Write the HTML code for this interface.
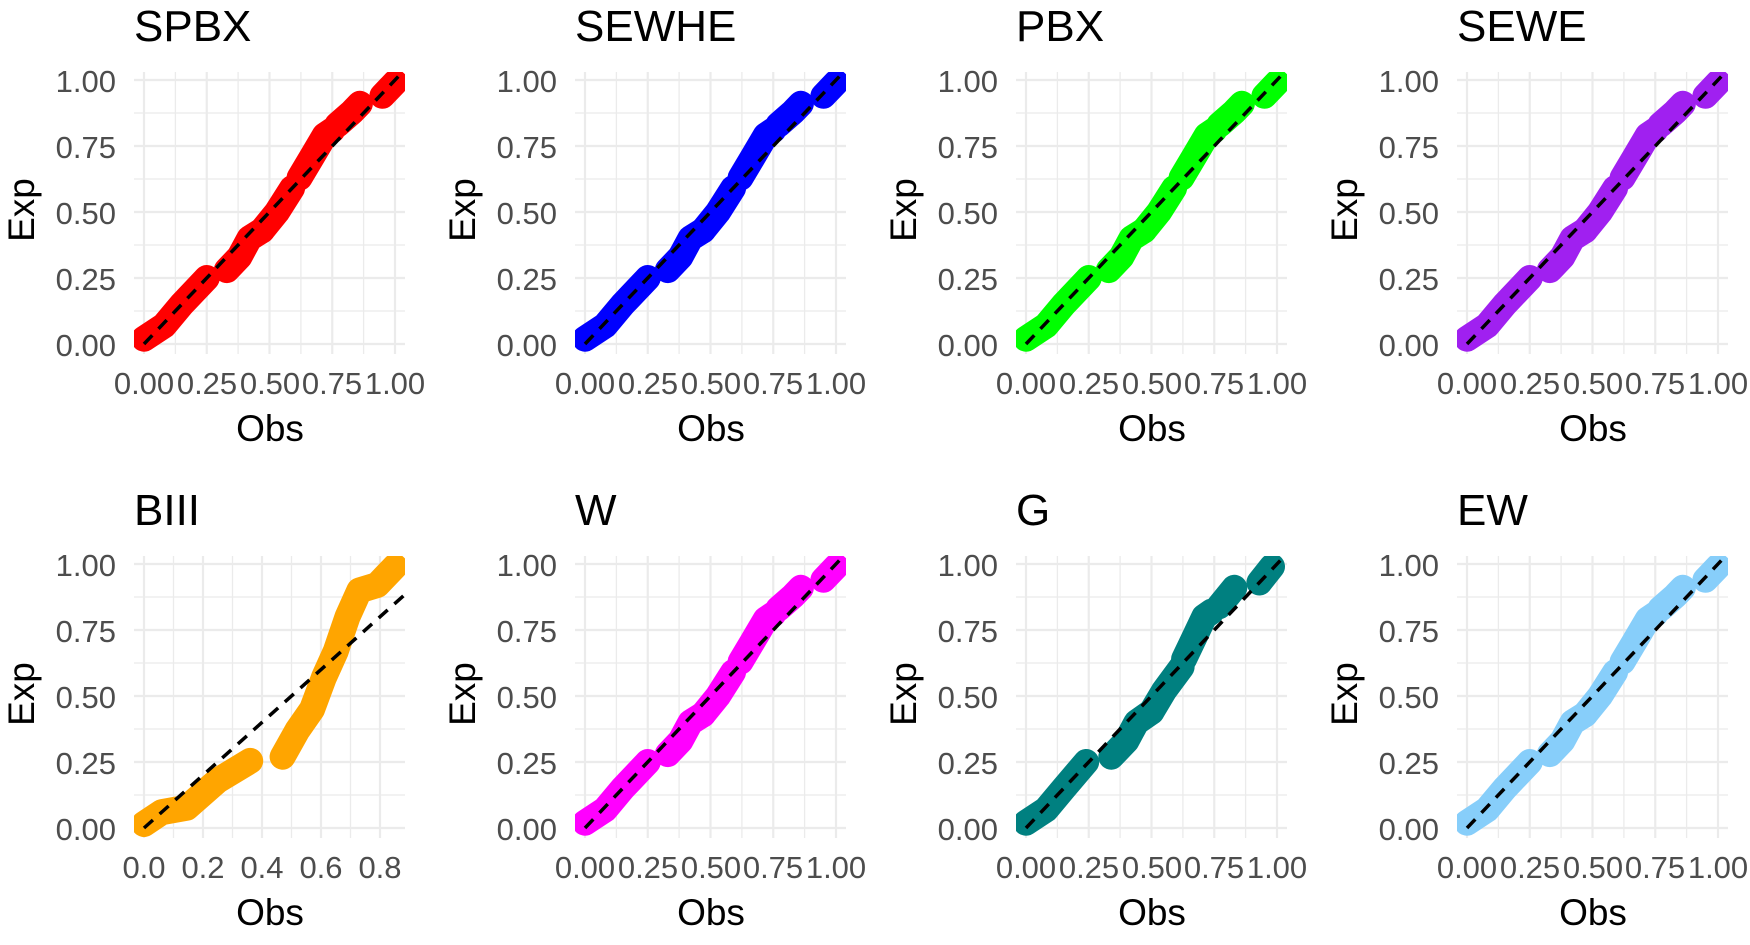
<!DOCTYPE html>
<html><head><meta charset="utf-8"><style>
html,body{margin:0;padding:0;background:#fff;}
svg{display:block;}
text{font-family:"Liberation Sans",sans-serif;}
.t{font-size:44px;fill:#000;}
.yl{font-size:31px;fill:#4d4d4d;text-anchor:end;}
.xl{font-size:31px;fill:#4d4d4d;text-anchor:middle;}
.ax{font-size:37px;fill:#000;text-anchor:middle;}
</style></head><body>
<svg id="s" width="1750" height="945" viewBox="0 0 1750 945" xmlns="http://www.w3.org/2000/svg">
<defs><clipPath id="cp"><rect x="134" y="72" width="271" height="282"/></clipPath></defs>
<g id="panels"></g>
<g id="texts">
<g transform="translate(0,0)">
<text class="t" x="134" y="41">SPBX</text>
<text class="yl" x="116" y="92">1.00</text><text class="yl" x="116" y="158">0.75</text><text class="yl" x="116" y="224">0.50</text><text class="yl" x="116" y="290">0.25</text><text class="yl" x="116" y="356">0.00</text>
<text class="xl" x="144" y="394">0.00</text><text class="xl" x="207" y="394">0.25</text><text class="xl" x="270" y="394">0.50</text><text class="xl" x="332" y="394">0.75</text><text class="xl" x="395" y="394">1.00</text>
<text class="ax" x="270" y="441">Obs</text><text class="ax" transform="translate(34,210) rotate(-90)">Exp</text>
</g>
<g transform="translate(441,0)">
<text class="t" x="134" y="41">SEWHE</text>
<text class="yl" x="116" y="92">1.00</text><text class="yl" x="116" y="158">0.75</text><text class="yl" x="116" y="224">0.50</text><text class="yl" x="116" y="290">0.25</text><text class="yl" x="116" y="356">0.00</text>
<text class="xl" x="144" y="394">0.00</text><text class="xl" x="207" y="394">0.25</text><text class="xl" x="270" y="394">0.50</text><text class="xl" x="332" y="394">0.75</text><text class="xl" x="395" y="394">1.00</text>
<text class="ax" x="270" y="441">Obs</text><text class="ax" transform="translate(34,210) rotate(-90)">Exp</text>
</g>
<g transform="translate(882,0)">
<text class="t" x="134" y="41">PBX</text>
<text class="yl" x="116" y="92">1.00</text><text class="yl" x="116" y="158">0.75</text><text class="yl" x="116" y="224">0.50</text><text class="yl" x="116" y="290">0.25</text><text class="yl" x="116" y="356">0.00</text>
<text class="xl" x="144" y="394">0.00</text><text class="xl" x="207" y="394">0.25</text><text class="xl" x="270" y="394">0.50</text><text class="xl" x="332" y="394">0.75</text><text class="xl" x="395" y="394">1.00</text>
<text class="ax" x="270" y="441">Obs</text><text class="ax" transform="translate(34,210) rotate(-90)">Exp</text>
</g>
<g transform="translate(1323,0)">
<text class="t" x="134" y="41">SEWE</text>
<text class="yl" x="116" y="92">1.00</text><text class="yl" x="116" y="158">0.75</text><text class="yl" x="116" y="224">0.50</text><text class="yl" x="116" y="290">0.25</text><text class="yl" x="116" y="356">0.00</text>
<text class="xl" x="144" y="394">0.00</text><text class="xl" x="207" y="394">0.25</text><text class="xl" x="270" y="394">0.50</text><text class="xl" x="332" y="394">0.75</text><text class="xl" x="395" y="394">1.00</text>
<text class="ax" x="270" y="441">Obs</text><text class="ax" transform="translate(34,210) rotate(-90)">Exp</text>
</g>
<g transform="translate(0,484)">
<text class="t" x="134" y="41">BIII</text>
<text class="yl" x="116" y="92">1.00</text><text class="yl" x="116" y="158">0.75</text><text class="yl" x="116" y="224">0.50</text><text class="yl" x="116" y="290">0.25</text><text class="yl" x="116" y="356">0.00</text>
<text class="xl" x="144" y="394">0.0</text><text class="xl" x="203" y="394">0.2</text><text class="xl" x="262" y="394">0.4</text><text class="xl" x="321" y="394">0.6</text><text class="xl" x="380" y="394">0.8</text>
<text class="ax" x="270" y="441">Obs</text><text class="ax" transform="translate(34,210) rotate(-90)">Exp</text>
</g>
<g transform="translate(441,484)">
<text class="t" x="134" y="41">W</text>
<text class="yl" x="116" y="92">1.00</text><text class="yl" x="116" y="158">0.75</text><text class="yl" x="116" y="224">0.50</text><text class="yl" x="116" y="290">0.25</text><text class="yl" x="116" y="356">0.00</text>
<text class="xl" x="144" y="394">0.00</text><text class="xl" x="207" y="394">0.25</text><text class="xl" x="270" y="394">0.50</text><text class="xl" x="332" y="394">0.75</text><text class="xl" x="395" y="394">1.00</text>
<text class="ax" x="270" y="441">Obs</text><text class="ax" transform="translate(34,210) rotate(-90)">Exp</text>
</g>
<g transform="translate(882,484)">
<text class="t" x="134" y="41">G</text>
<text class="yl" x="116" y="92">1.00</text><text class="yl" x="116" y="158">0.75</text><text class="yl" x="116" y="224">0.50</text><text class="yl" x="116" y="290">0.25</text><text class="yl" x="116" y="356">0.00</text>
<text class="xl" x="144" y="394">0.00</text><text class="xl" x="207" y="394">0.25</text><text class="xl" x="270" y="394">0.50</text><text class="xl" x="332" y="394">0.75</text><text class="xl" x="395" y="394">1.00</text>
<text class="ax" x="270" y="441">Obs</text><text class="ax" transform="translate(34,210) rotate(-90)">Exp</text>
</g>
<g transform="translate(1323,484)">
<text class="t" x="134" y="41">EW</text>
<text class="yl" x="116" y="92">1.00</text><text class="yl" x="116" y="158">0.75</text><text class="yl" x="116" y="224">0.50</text><text class="yl" x="116" y="290">0.25</text><text class="yl" x="116" y="356">0.00</text>
<text class="xl" x="144" y="394">0.00</text><text class="xl" x="207" y="394">0.25</text><text class="xl" x="270" y="394">0.50</text><text class="xl" x="332" y="394">0.75</text><text class="xl" x="395" y="394">1.00</text>
<text class="ax" x="270" y="441">Obs</text><text class="ax" transform="translate(34,210) rotate(-90)">Exp</text>
</g>
</g>
</svg>
<script>
(function(){
var NS="http://www.w3.org/2000/svg";
var root=document.getElementById("panels");
function el(n,a,p){var e=document.createElementNS(NS,n);for(var k in a)e.setAttribute(k,a[k]);p.appendChild(e);return e;}
var std=[[[0,0.02],[0.08,0.07],[0.15,0.15],[0.25,0.25]],[[0.33,0.28],[0.38,0.33],[0.42,0.40],[0.47,0.43]],[[0.47,0.43],[0.53,0.50],[0.59,0.59]],[[0.62,0.63],[0.67,0.71],[0.72,0.79],[0.75,0.81]],[[0.77,0.83],[0.83,0.88],[0.86,0.91]],[[0.95,0.94],[1.0,0.99]]];
var gg=[[[0,0.02],[0.08,0.07],[0.15,0.15],[0.24,0.25]],[[0.34,0.27],[0.4,0.33],[0.44,0.40],[0.5,0.44]],[[0.5,0.44],[0.55,0.52],[0.62,0.61]],[[0.63,0.64],[0.67,0.72],[0.71,0.80],[0.74,0.82]],[[0.77,0.84],[0.83,0.91]],[[0.93,0.93],[0.98,0.99]]];
var b3=[[[0,0.015],[0.06,0.06],[0.145,0.077],[0.25,0.18],[0.36,0.254]],[[0.47,0.27],[0.52,0.37],[0.57,0.45],[0.61,0.57],[0.65,0.67],[0.69,0.80],[0.73,0.90],[0.79,0.92],[0.85,0.99]]];
var P=[[0,0,"#ff0000",std,0],[441,0,"#0000ff",std,0],[882,0,"#00ff00",std,0],[1323,0,"#a020f0",std,0],
[0,484,"#ffa500",b3,1],[441,484,"#ff00ff",std,0],[882,484,"#008080",gg,0],[1323,484,"#87cefa",std,0]];
P.forEach(function(p){
 var g=el("g",{transform:"translate("+p[0]+","+p[1]+")"},root);
 var xs=p[4]?295:251, x0=144, y0=344, ys=264;
 function X(v){return x0+v*xs;} function Y(v){return y0-v*ys;}
 var i,v;
 for(i=0;i<=8;i++){v=i*0.125;el("line",{x1:134,x2:405,y1:Y(v),y2:Y(v),stroke:"#ebebeb","stroke-width":i%2?1.3:2.2},g);}
 if(p[4]){for(i=0;i<=9;i++){v=i*0.1;var xx=X(v);if(xx>405)break;el("line",{x1:xx,x2:xx,y1:72,y2:354,stroke:"#ebebeb","stroke-width":i%2?1.3:2.2},g);}}
 else{for(i=0;i<=8;i++){v=i*0.125;el("line",{x1:X(v),x2:X(v),y1:72,y2:354,stroke:"#ebebeb","stroke-width":i%2?1.3:2.2},g);}}
 var c=el("g",{"clip-path":"url(#cp)"},g);
 p[3].forEach(function(seg){
  var pts=seg.map(function(q){return X(q[0]).toFixed(1)+","+Y(q[1]).toFixed(1);}).join(" ");
  el("polyline",{points:pts,fill:"none",stroke:p[2],"stroke-width":26,"stroke-linecap":"round","stroke-linejoin":"round"},c);
 });
 el("line",{x1:X(0),y1:Y(0),x2:X(1.1),y2:Y(1.1),stroke:"#000","stroke-width":3.5,"stroke-dasharray":"12,9"},c);
});
})();
</script>
</body></html>
